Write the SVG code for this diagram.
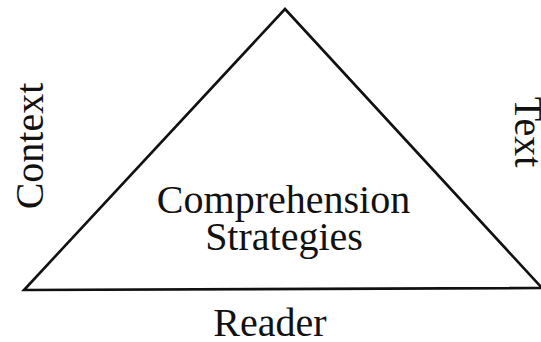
<svg xmlns="http://www.w3.org/2000/svg" width="541" height="342" viewBox="0 0 541 342">
  <style>
    .edge { fill: none; stroke: #111; stroke-width: 2.6; stroke-linejoin: miter; }
    .lbl { font-family: "Liberation Serif", "Times New Roman", serif; font-size: 40px; fill: #111; }
  </style>
  <rect width="541" height="342" fill="#ffffff"/>
  <g id="connectors">
    <path class="edge" d="M285,9 L542,288 L24,290 Z"/>
  </g>
  <g id="center">
    <text class="lbl" x="283.5" y="213" text-anchor="middle">Comprehension</text>
    <text class="lbl" x="284" y="250" text-anchor="middle">Strategies</text>
  </g>
  <g id="reader">
    <text class="lbl" x="270" y="336" text-anchor="middle">Reader</text>
  </g>
  <g id="context">
    <text class="lbl" transform="translate(43,146) rotate(-90)" text-anchor="middle">Context</text>
  </g>
  <g id="text">
    <text class="lbl" transform="translate(515,132) rotate(90)" text-anchor="middle">Text</text>
  </g>
</svg>
